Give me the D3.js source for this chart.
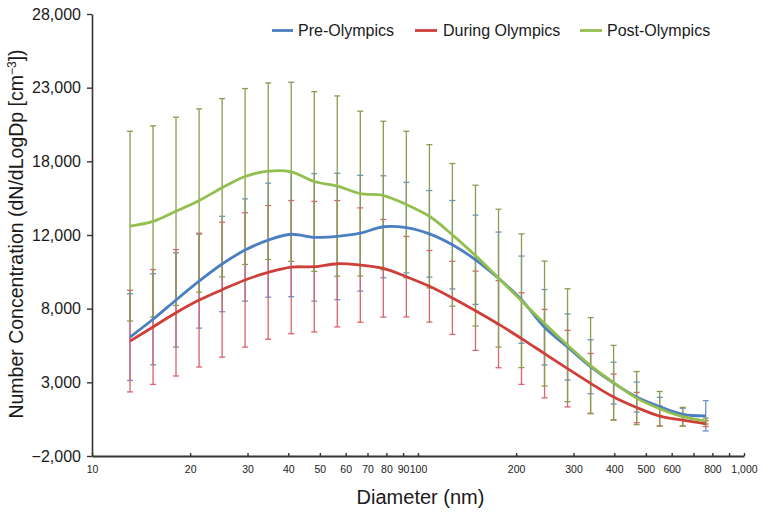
<!DOCTYPE html>
<html>
<head>
<meta charset="utf-8">
<script src="https://cdn.jsdelivr.net/npm/d3@7/dist/d3.min.js"></script>
<style>
  html, body { margin: 0; padding: 0; background: #fff; }
  svg { display: block; font-family: "Liberation Sans", Arial, Helvetica, sans-serif; }
</style>
</head>
<body>
<svg id="chart" width="762" height="514"></svg>
<script>
// ---- data ----
const diameters = [13.08,15.39,18.10,21.31,25.07,29.49,34.71,40.84,48.06,56.54,66.53,78.28,92.11,108.4,127.5,150.1,176.6,207.7,244.4,287.6,338.4,398.1,468.5,551.2,648.6,763.2];

const seriesNames = ["Pre-Olympics", "During Olympics", "Post-Olympics"];

const preMean = [6070,7280,8590,9870,11030,11980,12650,13050,12840,12900,13120,13560,13500,13080,12340,11320,10060,8610,6740,5400,4060,2950,2000,1350,830,730];
const preSD   = [2940,3090,3200,3190,3240,3470,3870,4240,4330,4290,3930,3460,3070,2940,3000,3030,3140,2960,2560,2250,1830,1420,1020,630,410,1030];

const duringMean = [5800,6760,7720,8580,9290,9950,10460,10820,10850,11050,10960,10740,10170,9520,8730,7860,6950,5970,4950,3930,2930,2000,1290,710,440,200];
const duringSD   = [3450,3900,4290,4540,4580,4560,4540,4520,4430,4290,3880,3310,2730,2430,2480,2690,2960,3110,3000,2600,2030,1560,1030,680,410,200];

const postMean = [13600,13920,14610,15340,16210,16970,17330,17290,16630,16320,15810,15680,15070,14270,13010,11600,10070,8540,6990,5520,4130,2980,1930,1210,670,370];
const postSD   = [6440,6490,6390,6220,6050,5970,5990,6080,6100,6120,5590,5040,4970,4860,4840,4780,4680,4540,4240,3830,3260,2530,1800,1170,630,200];

const yTickValues = [-2000, 3000, 8000, 13000, 18000, 23000, 28000];
const yTickLabels = ["\u22122,000", "3,000", "8,000", "12,000", "18,000", "23,000", "28,000"];

const xTickValues = [10,20,30,40,50,60,70,80,90,100,200,300,400,500,600,700,800,900,1000];
const xTickLabels = ["10","20","30","40","50","60","70","80","90","100","200","300","400","500","600","","800","","1,000"];

// ---- styling ----
const lineColors = ["#4a7fc1", "#cf3f3a", "#93bf4f"];
const barColors  = ["#6b93c8", "#d9646a", "#8a9c50"];

const svg = d3.select("#chart");
const x = d3.scaleLog().domain([10, 1000]).range([92, 744]);
const y = d3.scaleLinear().domain([-2000, 28000]).range([456, 14]);

const series = [
  { name: seriesNames[0], mean: preMean, sd: preSD },
  { name: seriesNames[1], mean: duringMean, sd: duringSD },
  { name: seriesNames[2], mean: postMean, sd: postSD }
];

// error bars
const capW = 3;
series.forEach((s, si) => {
  const g = svg.append("g").attr("stroke", barColors[si]).attr("stroke-width", 1.3).attr("fill", "none");
  diameters.forEach((d, i) => {
    const cx = x(d);
    const lo = y(s.mean[i] - s.sd[i]);
    const hi = y(s.mean[i] + s.sd[i]);
    g.append("line").attr("x1", cx).attr("x2", cx).attr("y1", lo).attr("y2", hi);
    g.append("line").attr("x1", cx - capW).attr("x2", cx + capW).attr("y1", lo).attr("y2", lo);
    g.append("line").attr("x1", cx - capW).attr("x2", cx + capW).attr("y1", hi).attr("y2", hi);
  });
});

// smoothed lines
const line = d3.line()
  .x((d, i) => x(diameters[i]))
  .y(d => y(d))
  .curve(d3.curveCatmullRom.alpha(0.5));

series.forEach((s, si) => {
  svg.append("path")
    .attr("d", line(s.mean))
    .attr("fill", "none")
    .attr("stroke", lineColors[si])
    .attr("stroke-width", 2.8)
    .attr("stroke-linejoin", "round");
});

// y axis
const yAxis = d3.axisLeft(y)
  .tickValues(yTickValues)
  .tickFormat((d, i) => yTickLabels[i])
  .tickSizeInner(5)
  .tickSizeOuter(0)
  .tickPadding(6);
const gy = svg.append("g").attr("transform", "translate(92,0)").call(yAxis);
gy.select(".domain").attr("stroke", "#333").attr("stroke-width", 1.6);
gy.selectAll(".tick line").attr("stroke", "#333").attr("stroke-width", 1.4);
gy.selectAll(".tick text").attr("font-size", 16).attr("fill", "#1a1a1a")
  .attr("font-family", "'Liberation Sans', Arial, Helvetica, sans-serif");

// x axis
const xAxis = d3.axisBottom(x)
  .tickValues(xTickValues)
  .tickFormat((d, i) => xTickLabels[i])
  .tickSizeInner(-3)
  .tickSizeOuter(0)
  .tickPadding(10);
const gx = svg.append("g").attr("transform", "translate(0,456)").call(xAxis);
gx.select(".domain").attr("stroke", "#333").attr("stroke-width", 1.8);
gx.selectAll(".tick line").attr("stroke", "#333").attr("stroke-width", 1.4);
gx.selectAll(".tick text").attr("font-size", 10.5).attr("fill", "#1a1a1a")
  .attr("font-family", "'Liberation Sans', Arial, Helvetica, sans-serif");

// axis titles
svg.append("text")
  .attr("x", 420.5).attr("y", 504)
  .attr("text-anchor", "middle")
  .attr("font-size", 20)
  .attr("fill", "#1a1a1a")
  .text("Diameter (nm)");

const yt = svg.append("text")
  .attr("transform", "translate(23,234) rotate(-90)")
  .attr("text-anchor", "middle")
  .attr("font-size", 19.5)
  .attr("fill", "#1a1a1a");
yt.append("tspan").text("Number Concentration (dN/dLogDp [cm");
yt.append("tspan").attr("font-size", 12).attr("dy", -7).text("\u22123");
yt.append("tspan").attr("dy", 7).text("])");

// legend
const legendPos = [
  { x1: 272, x2: 293, tx: 298 },
  { x1: 415, x2: 437, tx: 443 },
  { x1: 580, x2: 602, tx: 607 }
];
series.forEach((s, si) => {
  const p = legendPos[si];
  svg.append("line")
    .attr("x1", p.x1).attr("x2", p.x2).attr("y1", 30.5).attr("y2", 30.5)
    .attr("stroke", lineColors[si]).attr("stroke-width", 2.8);
  svg.append("text")
    .attr("x", p.tx).attr("y", 36)
    .attr("font-size", 16)
    .attr("fill", "#1a1a1a")
    .text(s.name);
});
</script>
</body>
</html>
